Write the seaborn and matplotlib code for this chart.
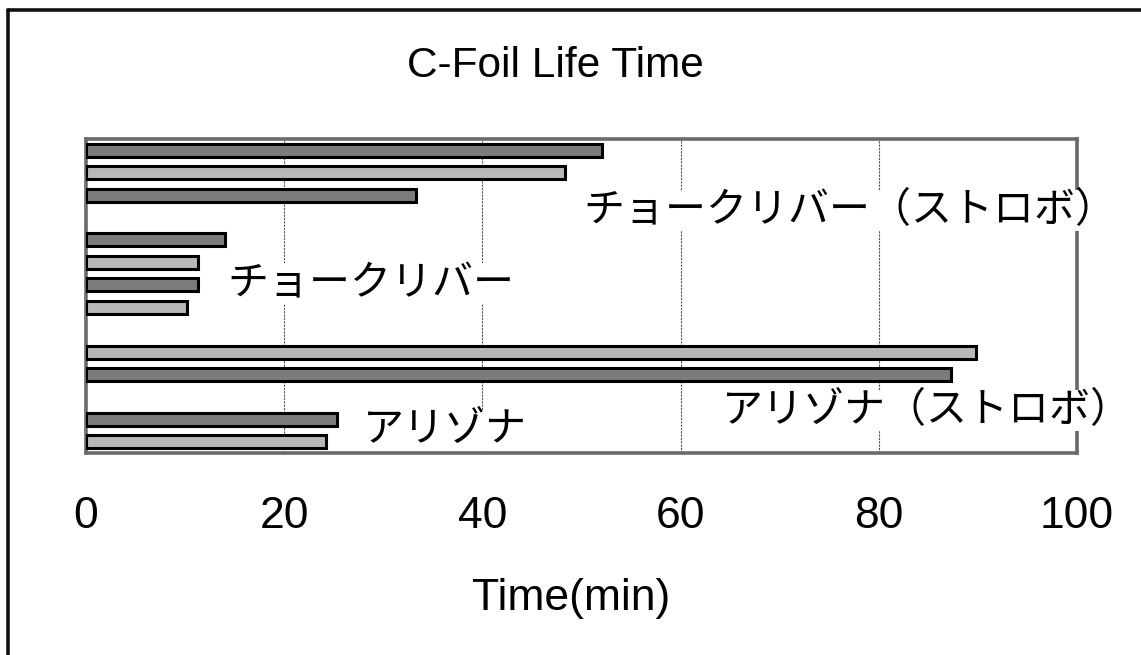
import numpy as np
import pandas as pd
import matplotlib
matplotlib.use("Agg")
import matplotlib.pyplot as plt
from matplotlib.lines import Line2D
import seaborn as sns

# ---------------- data ----------------
title = "C-Foil Life Time"
xlabel = "Time(min)"
xticks = [0, 20, 40, 60, 80, 100]

group_names = ["チョークリバー（ストロボ）", "チョークリバー", "アリゾナ（ストロボ）", "アリゾナ"]
chalk_strobe = [52.1, 48.3, 33.3]
chalk = [14.0, 11.3, 11.3, 10.2]
arizona_strobe = [89.8, 87.3]
arizona = [25.3, 24.2]
groups = [chalk_strobe, chalk, arizona_strobe, arizona]

# ---------------- build table (with spacer slots between groups) ----------------
rows = []
slots = []
for gi, (name, vals) in enumerate(zip(group_names, groups)):
    for k, v in enumerate(vals):
        s = f"{gi}-{k}"
        slots.append(s)
        rows.append({"slot": s, "minutes": v, "group": name})
    if gi < len(groups) - 1:
        s = f"gap{gi}"
        slots.append(s)
        rows.append({"slot": s, "minutes": np.nan, "group": ""})
df = pd.DataFrame(rows)

sns.set_theme(style="white")
plt.rcParams["font.family"] = ["Liberation Sans", "DejaVu Sans"]
plt.rcParams["text.color"] = "black"
plt.rcParams["xtick.color"] = "black"
plt.rcParams["xtick.labelcolor"] = "black"

fig = plt.figure(figsize=(11.41, 6.55), dpi=100)
W, H = 1141, 655
ax = fig.add_axes([86 / W, 1 - 453 / H, (1077 - 86) / W, (453 - 139) / H])

sns.barplot(data=df.dropna(), x="minutes", y="slot", order=slots, orient="h",
            color="#b0b0b0", width=0.58, edgecolor="black", linewidth=2.2,
            ax=ax, zorder=3)

# two shades like the reference fill patterns
shade_cycle = ["#7c7c7c", "#b8b8b8", "#7c7c7c", "#7c7c7c", "#b8b8b8", "#7c7c7c",
               "#b8b8b8", "#b8b8b8", "#7c7c7c", "#7c7c7c", "#b8b8b8"]
bars = [p for p in ax.patches if p.get_width() > 0]
bars.sort(key=lambda p: p.get_y())
for p, c in zip(bars, shade_cycle):
    p.set_facecolor(c)

ax.set_xlim(0, 100)
ax.set_ylim(len(slots) - 0.5, -0.5)
ax.set_xticks(xticks)
ax.set_xticklabels([str(t) for t in xticks], fontsize=32, color="black")
ax.tick_params(axis="x", length=0, pad=31)
ax.set_yticks([])
ax.set_ylabel("")
ax.set_xlabel("")
for x in xticks[1:-1]:
    ax.axvline(x, color="#555555", lw=0.8, ls=(0, (2, 1)), zorder=1)

for side in ["top", "bottom", "left", "right"]:
    ax.spines[side].set_visible(True)
    ax.spines[side].set_color("#6a6a6a")
    ax.spines[side].set_linewidth(2.6)

# group labels inside the plot
jp = ["Noto Sans CJK JP", "DejaVu Sans"]
label_pos = [(50.2, 2.7), (14.3, 5.95), (64.2, 11.6), (27.9, 12.5)]
for name, (lx, ly) in zip(group_names, label_pos):
    ax.text(lx, ly, name, family=jp, fontsize=29.5, ha="left", va="center",
            color="black", zorder=6, clip_on=False,
            bbox=dict(facecolor="white", edgecolor="none", pad=0))

fig.text(555 / W, 1 - 77 / H, title, fontsize=30.5, ha="center", va="baseline",
         color="black")
fig.text(571 / W, 1 - 610 / H, xlabel, fontsize=32, ha="center", va="baseline",
         color="black")

# outer frame (left and top edges visible in the reference)
fig.add_artist(Line2D([8 / W, 8 / W], [0, 1 - 10 / H], color="#111111", lw=2.6,
                      transform=fig.transFigure))
fig.add_artist(Line2D([8 / W, 1], [1 - 10 / H, 1 - 10 / H], color="#111111", lw=2.6,
                      transform=fig.transFigure))

fig.savefig("out.png", dpi=100)
